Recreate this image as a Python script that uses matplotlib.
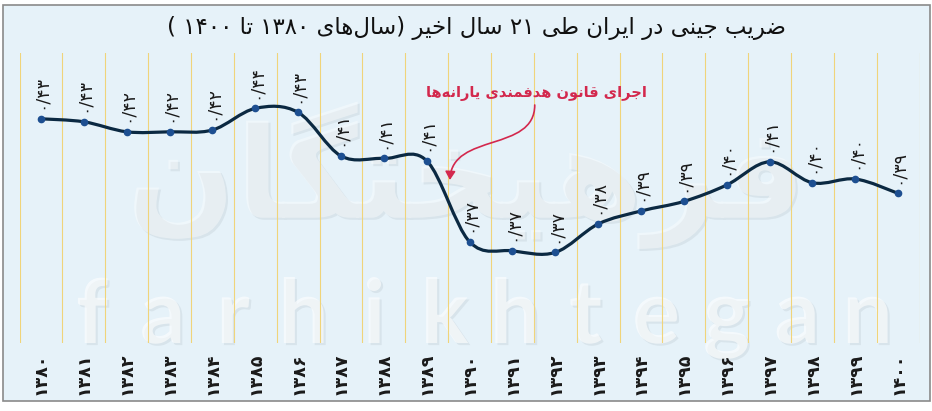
import re

import matplotlib.pyplot as plt
import matplotlib.patheffects as pe
from matplotlib.patches import FancyArrowPatch, Rectangle
from matplotlib.path import Path

years = ["۱۳۸۰", "۱۳۸۱", "۱۳۸۲", "۱۳۸۳", "۱۳۸۴", "۱۳۸۵", "۱۳۸۶", "۱۳۸۷", "۱۳۸۸", "۱۳۸۹", "۱۳۹۰",
         "۱۳۹۱", "۱۳۹۲", "۱۳۹۳", "۱۳۹۴", "۱۳۹۵", "۱۳۹۶", "۱۳۹۷", "۱۳۹۸", "۱۳۹۹", "۱۴۰۰"]
gini = [0.4348, 0.4333, 0.4283, 0.4283, 0.4292, 0.4400, 0.4380, 0.4162, 0.4150, 0.4138, 0.3733,
        0.3688, 0.3680, 0.3822, 0.3887, 0.3935, 0.4017, 0.4133, 0.4028, 0.4047, 0.3975]
gini_labels = ["۰/۴۳", "۰/۴۳", "۰/۴۲", "۰/۴۲", "۰/۴۲", "۰/۴۴", "۰/۴۳", "۰/۴۱", "۰/۴۱", "۰/۴۱", "۰/۳۷",
               "۰/۳۷", "۰/۳۷", "۰/۳۸", "۰/۳۹", "۰/۳۹", "۰/۴۰", "۰/۴۱", "۰/۴۰", "۰/۴۰", "۰/۳۹"]

TITLE = "ضریب جینی در ایران طی ۲۱ سال اخیر (سال‌های ۱۳۸۰ تا ۱۴۰۰ )"
NOTE = "اجرای قانون هدفمندی یارانه‌ها"

# isolated, final, initial, medial (None -> letter does not join to the next one)
FORMS = {
    "ا": ("\uFE8D", "\uFE8E", None, None),
    "ب": ("\uFE8F", "\uFE90", "\uFE91", "\uFE92"),
    "ت": ("\uFE95", "\uFE96", "\uFE97", "\uFE98"),
    "ج": ("\uFE9D", "\uFE9E", "\uFE9F", "\uFEA0"),
    "خ": ("\uFEA5", "\uFEA6", "\uFEA7", "\uFEA8"),
    "د": ("\uFEA9", "\uFEAA", None, None),
    "ر": ("\uFEAD", "\uFEAE", None, None),
    "س": ("\uFEB1", "\uFEB2", "\uFEB3", "\uFEB4"),
    "ض": ("\uFEBD", "\uFEBE", "\uFEBF", "\uFEC0"),
    "ط": ("\uFEC1", "\uFEC2", "\uFEC3", "\uFEC4"),
    "ف": ("\uFED1", "\uFED2", "\uFED3", "\uFED4"),
    "ق": ("\uFED5", "\uFED6", "\uFED7", "\uFED8"),
    "ل": ("\uFEDD", "\uFEDE", "\uFEDF", "\uFEE0"),
    "م": ("\uFEE1", "\uFEE2", "\uFEE3", "\uFEE4"),
    "ن": ("\uFEE5", "\uFEE6", "\uFEE7", "\uFEE8"),
    "ه": ("\uFEE9", "\uFEEA", "\uFEEB", "\uFEEC"),
    "و": ("\uFEED", "\uFEEE", None, None),
    "ی": ("\uFBFC", "\uFBFD", "\uFBFE", "\uFBFF"),
    "گ": ("\uFB92", "\uFB93", "\uFB94", "\uFB95"),
}


def shape(text):
    out = []
    for i, ch in enumerate(text):
        if ch not in FORMS:
            out.append(ch)
            continue
        prev = text[i - 1] if i > 0 else ""
        nxt = text[i + 1] if i + 1 < len(text) else ""
        jp = prev in FORMS and FORMS[prev][2] is not None
        jn = FORMS[ch][2] is not None and nxt in FORMS
        iso, fin, ini, med = FORMS[ch]
        out.append(med if jp and jn else fin if jp else ini if jn else iso)
    return "".join(out)


def rtl(text):
    s = shape(text).replace("\u200c", "")
    runs = re.findall(r"[۰-۹/]+|[^۰-۹/]+", s)
    mirror = str.maketrans("()", ")(")
    vis = []
    for r in reversed(runs):
        vis.append(r if r[0] in "۰۱۲۳۴۵۶۷۸۹/" else r[::-1].translate(mirror))
    return "".join(vis)


def smooth_path(xs, ys):
    pts = list(zip(xs, ys))
    ext = [pts[0]] + pts + [pts[-1]]
    verts, codes = [pts[0]], [Path.MOVETO]
    for i in range(1, len(ext) - 2):
        p0, p1, p2, p3 = ext[i - 1], ext[i], ext[i + 1], ext[i + 2]
        c1 = (p1[0] + (p2[0] - p0[0]) / 6, p1[1] + (p2[1] - p0[1]) / 6)
        c2 = (p2[0] - (p3[0] - p1[0]) / 6, p2[1] - (p3[1] - p1[1]) / 6)
        verts += [c1, c2, p2]
        codes += [Path.CURVE4] * 3
    return Path(verts, codes)


BG = "#e6f2f9"
W, H = 932, 411

fig = plt.figure(figsize=(W / 100, H / 100), dpi=100)
fig.patch.set_facecolor("white")
fig.patches.append(Rectangle((3 / W, 1 - 401 / H), 927 / W, 396 / H, transform=fig.transFigure,
                             facecolor=BG, edgecolor="#8a8a8a", linewidth=1.2, zorder=-2))

# watermark
wm = [pe.withSimplePatchShadow(offset=(1.5, -1.5), shadow_rgbFace="#b8c4cc", alpha=0.3)]
fig.text(0.5, 1 - 175 / H, rtl("فرهیختگان"), ha="center", va="center", fontsize=92,
         fontweight="bold", color="white", alpha=0.4, path_effects=wm, zorder=-1)
for k, ch in enumerate("farhikhtegan"):
    fig.text((92 + k * 70.5) / W, 1 - 343 / H, ch, ha="center", va="baseline", fontsize=64,
             family="Lato", fontweight="bold", color="white", alpha=0.6, path_effects=wm,
             zorder=-1)

ax = fig.add_axes([19.6 / W, 1 - 343 / H, 900 / W, 290 / H])
ax.set_zorder(2)
ax.set_facecolor("none")
for sp in ax.spines.values():
    sp.set_visible(False)
x = list(range(len(years)))
ax.set_xlim(-0.5, len(years) - 0.5)
ax.set_ylim(0.3227, 0.4677)
for i in range(len(years) + 1):
    ax.axvline(i - 0.5, color="#f0d47a", linewidth=0.8, zorder=1)

ax.add_patch(FancyArrowPatch(path=smooth_path(x, gini), arrowstyle="-", color="#0b2942",
                             linewidth=2.3, zorder=3))
ax.plot(x, gini, "o", color="#1d4f91", markersize=4.5, zorder=4)

for xi, v, lbl in zip(x, gini, gini_labels):
    ax.annotate(lbl, (xi, v), xytext=(0, 7), textcoords="offset points", rotation=90,
                ha="center", va="bottom", fontsize=12.5, color="#1a1a1a", zorder=5)

ax.set_xticks(x)
ax.set_xticklabels(years, rotation=90, fontsize=12.5, fontweight="bold", color="#1a1a1a")
ax.tick_params(axis="x", length=0, pad=7)
ax.set_yticks([])

# annotation for the subsidy reform
ax.text(11.55, 0.4475, rtl(NOTE), ha="center", va="center", fontsize=10.5,
        fontweight="bold", color="#d3284d", zorder=5)
arrow = Path([(11.52, 0.4417), (11.52, 0.418), (9.6, 0.428), (9.54, 0.4042)],
             [Path.MOVETO, Path.CURVE4, Path.CURVE4, Path.CURVE4])
ax.add_patch(FancyArrowPatch(path=arrow, arrowstyle="-|>,head_length=5,head_width=3",
                             color="#d3284d", linewidth=1.2, zorder=5))

fig.text(477 / W, 1 - 28 / H, rtl(TITLE), ha="center", va="center", fontsize=16.5,
         color="#111111", zorder=5)

fig.savefig("out.png", dpi=100, facecolor="white")
